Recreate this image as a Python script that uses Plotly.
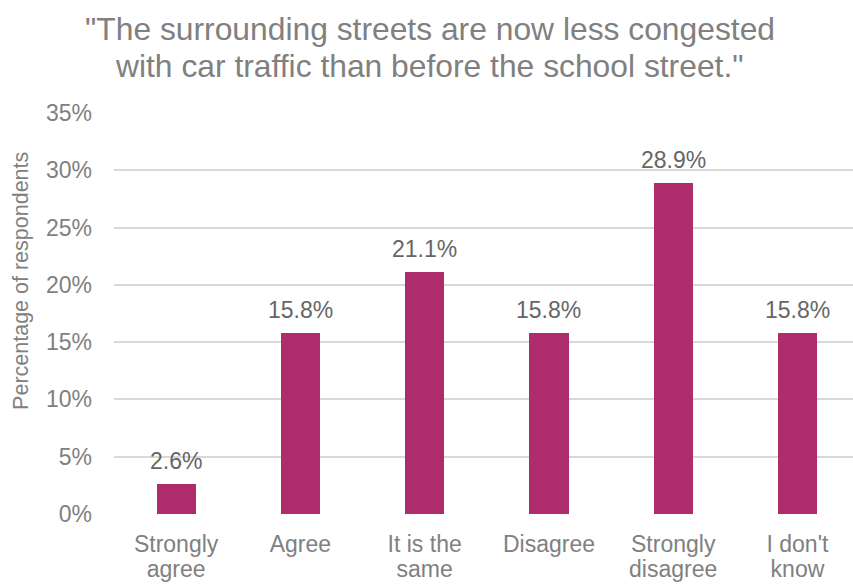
import plotly.graph_objects as go

# Survey responses
cat_line1 = ["Strongly", "Agree", "It is the", "Disagree", "Strongly", "I don't"]
cat_line2 = ["agree", "", "same", "", "disagree", "know"]
shares = [2.6, 15.8, 21.1, 15.8, 28.9, 15.8]
y_ticks = [0, 5, 10, 15, 20, 25, 30, 35]
y_tick_text = [f"{v}%" for v in y_ticks]

title_lines = ['"The surrounding streets are now less congested',
               'with car traffic than before the school street."']

BAR = "#AE2B6C"
TXT = "#808080"
FONT = "Liberation Sans, Arial, sans-serif"
positions = list(range(len(shares)))
x_range = [-0.5, 5.447]

fig = go.Figure()
fig.add_trace(go.Bar(
    x=positions,
    y=shares,
    width=0.315,
    marker=dict(color=BAR, line=dict(width=0)),
    hoverinfo="skip",
))
# invisible anchor trace so the second bottom axis gets drawn
fig.add_trace(go.Scatter(
    x=positions, y=[0] * len(positions), xaxis="x2", yaxis="y",
    mode="markers", marker=dict(opacity=0, size=1), hoverinfo="skip",
))

# value labels above each bar
for i, v in enumerate(shares):
    fig.add_annotation(
        x=i, y=v, xref="x", yref="y",
        text=f"{v:.1f}%", showarrow=False,
        yanchor="bottom", yshift=8,
        font=dict(family=FONT, size=23, color="#666666"),
    )

# chart title, one annotation per line
for line, shift in zip(title_lines, [63.5, 27]):
    fig.add_annotation(
        x=0.4273, xref="paper", y=1.0, yref="paper",
        xanchor="center", yanchor="bottom", yshift=shift,
        text=line, showarrow=False,
        font=dict(family=FONT, size=31.8, color=TXT),
    )

# vertical axis title
fig.add_annotation(
    x=-0.126, xref="paper", y=0.581, yref="paper",
    xanchor="center", yanchor="middle",
    text="Percentage of respondents", textangle=-90, showarrow=False,
    font=dict(family=FONT, size=21.5, color=TXT),
)

fig.update_layout(
    width=853, height=584,
    margin=dict(l=114.4, r=0, t=112.7, b=69.7, pad=0),
    paper_bgcolor="white", plot_bgcolor="white",
    showlegend=False,
    font=dict(family=FONT, size=23, color=TXT),
    bargap=0,
    xaxis=dict(
        tickmode="array", tickvals=positions, ticktext=cat_line1,
        range=x_range,
        showgrid=False, zeroline=False, showline=False,
        ticks="", ticklabelstandoff=14,
        tickfont=dict(family=FONT, size=23, color=TXT),
    ),
    # second bottom axis carries the second line of each category label
    xaxis2=dict(
        overlaying="x", anchor="y", side="bottom",
        tickmode="array", tickvals=positions, ticktext=cat_line2,
        range=x_range, showgrid=False, zeroline=False, showline=False,
        ticks="", ticklabelstandoff=39,
        tickfont=dict(family=FONT, size=23, color=TXT),
    ),
    yaxis=dict(
        range=[0, 35],
        tickmode="array", tickvals=y_ticks, ticktext=y_tick_text,
        showgrid=True, gridcolor="#D9D9D9", gridwidth=1.5,
        zeroline=False, showline=False,
        ticks="", ticklabelstandoff=21,
        tickfont=dict(family=FONT, size=23, color=TXT),
    ),
)

fig.write_html("out.html")
